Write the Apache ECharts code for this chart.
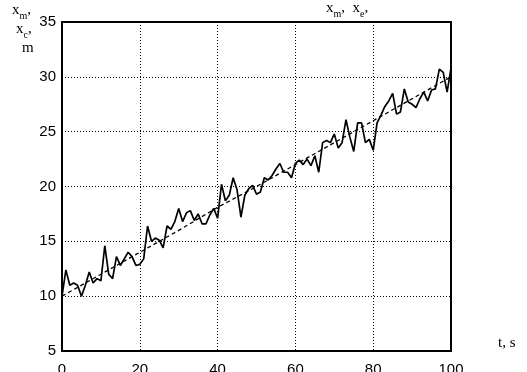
<!DOCTYPE html>
<html><head><meta charset="utf-8">
<script src="https://cdn.jsdelivr.net/npm/echarts@6/dist/echarts.min.js"></script>
<style>html,body{margin:0;padding:0;background:#fff}#c{width:527px;height:372px}</style>
</head><body><div id="c"></div>
<script>
// measured trajectory x_m (t = 0..100 s, step 1)
var tMeasured = [];
for (var i = 0; i <= 100; i++) tMeasured.push(i);
var xMeasured = [
10.0,12.4,11.0,11.2,11.0,10.0,11.0,12.2,11.2,11.6,
11.4,14.6,12.0,11.6,13.6,12.8,13.4,14.0,13.6,12.8,
12.9,13.4,16.4,15.0,15.3,15.1,14.4,16.4,16.1,16.8,
18.0,16.8,17.6,17.8,16.9,17.5,16.6,16.6,17.4,18.0,
17.1,20.2,18.7,19.2,20.8,19.7,17.2,19.2,19.8,20.1,
19.3,19.5,20.8,20.6,21.0,21.6,22.1,21.3,21.3,20.8,
22.1,22.4,22.0,22.5,21.9,22.8,21.3,24.0,24.2,24.0,
24.8,23.5,24.0,26.1,24.5,23.2,25.8,25.8,24.0,24.3,
23.3,25.8,26.5,27.3,27.8,28.5,26.6,26.8,28.9,27.7,
27.5,27.2,28.0,28.6,27.8,28.8,28.9,30.7,30.4,28.6,
30.8];
// estimated trajectory x_e
var tEstimated = [0,10,20,30,40,50,60,70,80,90,100];
var xEstimated = [10.0,12.0,14.0,16.0,18.1,20.0,22.0,24.0,26.0,28.0,30.0];
var xTicks = [0,20,40,60,80,100];
var yTicks = [5,10,15,20,25,30,35];

function pairs(a,b){return a.map(function(v,i){return [v,b[i]];});}

var chart = echarts.init(document.getElementById('c'));
var serif = 'Liberation Serif';
var rich = {
  x:{fontFamily:serif,fontSize:15,color:'#000',lineHeight:18,verticalAlign:'bottom'},
  s:{fontFamily:serif,fontSize:10,color:'#000',lineHeight:18,verticalAlign:'bottom',padding:[0,0,-3,0]}
};
chart.setOption({
  animation:false,
  backgroundColor:'#fff',
  grid:{left:62,right:76,top:22,bottom:21,containLabel:false,outerBoundsMode:'none',show:true,borderColor:'#000',borderWidth:2,backgroundColor:'transparent'},
  xAxis:{type:'value',min:xTicks[0],max:xTicks[xTicks.length-1],interval:20,
    axisLine:{show:true,lineStyle:{color:'#000',width:2}},
    axisTick:{show:false},
    axisLabel:{color:'#000',fontFamily:'Liberation Sans',fontSize:15,margin:11},
    splitLine:{show:true,lineStyle:{color:'#000',width:1,type:[1,2]}}},
  yAxis:{type:'value',min:yTicks[0],max:yTicks[yTicks.length-1],interval:5,
    axisLine:{show:true,lineStyle:{color:'#000',width:2}},
    axisTick:{show:false},
    axisLabel:{color:'#000',fontFamily:'Liberation Sans',fontSize:15,margin:6},
    splitLine:{show:true,lineStyle:{color:'#000',width:1,type:[1,2]}}},
  graphic:[
    {type:'text',left:12,top:3,style:{text:'{x|x}{s|m}{x|,}',rich:rich}},
    {type:'text',left:16,top:22,style:{text:'{x|x}{s|c}{x|,}',rich:rich}},
    {type:'text',left:22,top:41,style:{text:'{x|m}',rich:rich}},
    {type:'text',left:326,top:1,style:{text:'{x|x}{s|m}{x|,  x}{s|e}{x|,}',rich:rich}},
    {type:'text',left:498,top:336,style:{text:'t, s',fontFamily:serif,fontSize:15,fill:'#000'}}
  ],
  series:[
    {type:'line',data:pairs(tMeasured,xMeasured),showSymbol:false,lineStyle:{color:'#000',width:1.7},z:3},
    {type:'line',data:pairs(tEstimated,xEstimated),showSymbol:false,lineStyle:{color:'#000',width:1.3,type:[4,3]},z:4}
  ]
});
</script>
</body></html>
